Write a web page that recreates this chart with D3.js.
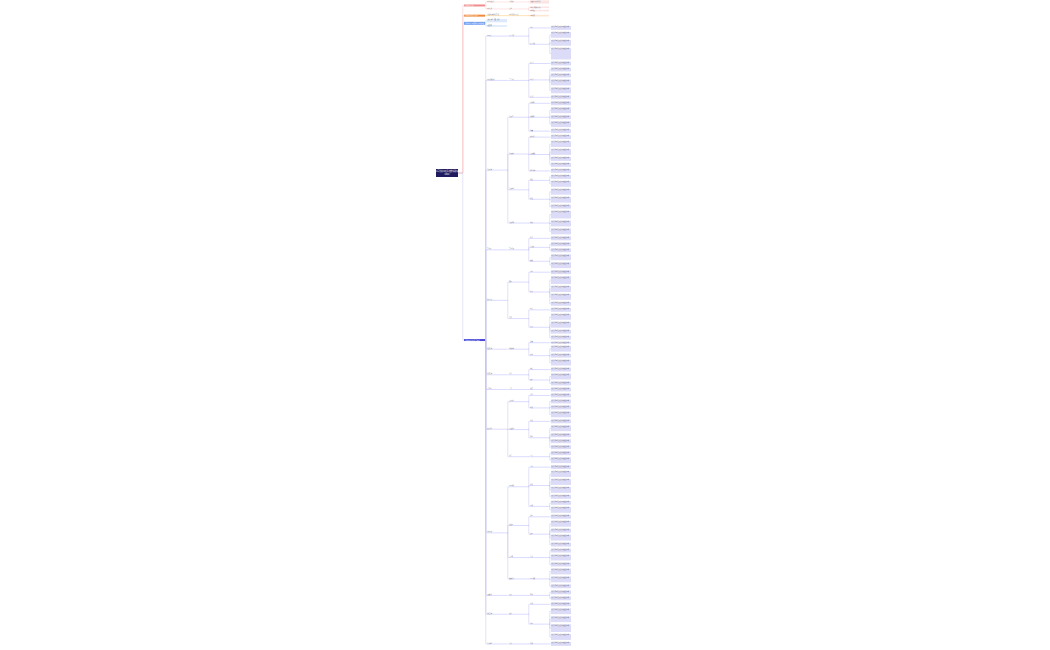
<!DOCTYPE html><html><head><meta charset="utf-8"><script src="https://cdn.jsdelivr.net/npm/d3@7"></script>
<style>body{margin:0;background:#fff}</style></head><body><svg id="c" width="1050" height="650"></svg><script>
const rootTitle="公司法律风险防控体系建设";
const topBranches=[
 {n:"法律风险识别",color:"#f08c8c",bg:"#fde4e4",c:[{n:"风险识别方法",c:[{n:"访谈调查",c:[{n:"问卷调查与资料分析",l:2}]}]},{n:"风险清单",c:[{n:"清单",c:[{n:"风险清单编制与评估",l:1},{n:"风险等级",l:1}]}]}]},
 {n:"法律风险分析与评价",color:"#f08a3c",bg:"#fde6d2",c:[{n:"可能性与影响程度分析",c:[{n:"风险矩阵评价方法",c:[{n:"风险排序",l:1}]}]}]},
 {n:"法律风险应对策略与控制措施",color:"#6f9cf0",bg:"#dde8fc",c:[{n:"规避、降低、转移、承受",l:2},{n:"制度完善",l:1}]}
];
const mainBranch="法律风险防控重点领域";
const groups=[
 ["公司设立",[["设立程序",[["出资",[2]],["股东协议",[3,3,6]]]]]],
 ["公司治理结构",[["三会运作",[["股东会",[2]],["董事会",[2,2,3,3]],["监事会",[2]]]]]],
 ["合同管理",[["合同订立",[["主体审查",[2]],["条款审查",[3,2,3]],["签章",[2]]]],["合同履行",[["履行监控",[2]],["变更解除",[3,3,2,2]],["违约处理",[2]]]],["合同纠纷",[["诉讼",[2,3]],["仲裁",[3,3,2]]]],["合同归档",[["档案",[4,3,3]]]]]],
 ["劳动用工",[["劳动合同",[["签订",[2]],["试用期",[2,2]],["解除",[3,3]]]]]],
 ["知识产权",[["商标",[["注册",[2]],["维权",[4,3,3,2]]]],["专利",[["申请",[2]],["侵权",[3,3,2,2]]]]]],
 ["税务管理",[["纳税申报",[["发票",[1]],["申报",[3,2,3]]]]]],
 ["财务管理",[["资金",[["担保",[2]],["融资",[3,2]]]]]],
 ["安全生产",[["责任",[["制度",[2]]]]]],
 ["投资并购",[["尽职调查",[["法律",[2]],["财务",[2,2,3]]]],["交易结构",[["协议",[2]],["审批",[3,2,2,2]]]],["整合",[["人员",[2,3]]]]]],
 ["对外经营",[["市场营销",[["广告",[2]],["促销",[3,3,3,2]],["价格",[2,3]]]],["招投标",[["招标",[2]],["投标",[3,2,3,2]]]],["反垄断",[["合规",[2,3,2]]]],["数据合规",[["个人信息",[3,3,2]]]]]],
 ["环境保护",[["环评",[["审批",[2,2]]]]]],
 ["诉讼管理",[["案件",[["应诉",[2]],["执行",[3,3,4,3]]]]]],
 ["合规体系",[["合规",[["培训",[2]]]]]]
];
const leafText="相关法律风险点及防控措施说明内容";
const svg=d3.select("#c");
function build(){
 return {n:rootTitle,root:true,c:[...topBranches.map(b=>({...b,top:true})),{n:mainBranch,main:true,c:groups.map(g=>({n:g[0],c:g[1].map(h=>({n:h[0],c:h[1].map(k=>({n:k[0],c:k[1].map(l=>({n:leafText,l}))}))}))}))}]};
}
const root=d3.hierarchy(build(),d=>d.c);
const colX=[436,464,487,509,530,551,573];
const colW=[22,21,20,20,19,20,20];
const topLeaves=root.children.slice(0,3);
let units=0;
root.children[3].leaves().forEach(d=>{d.u0=units;units+=d.data.l*1.1+1.2;d.u1=units;});
const yMain=d3.scaleLinear().domain([0,units]).range([26,648]);
root.children[3].eachAfter(d=>{if(!d.children){d.y=yMain((d.u0+d.u1)/2-0.6);d.h=(d.data.l*1.1)*(622/units);}else{d.y=(d.children[0].y+d.children[d.children.length-1].y)/2;d.h=2;}});
let tu=0;topLeaves.forEach(b=>{b.leaves().forEach(d=>{d.y=2+tu*2.2;d.h=d.data.l*1.6;tu+=d.data.l*0.9+0.6;});b.eachAfter(d=>{if(d.children){d.y=(d.children[0].y+d.children[d.children.length-1].y)/2;d.h=2;}});tu+=0.8;});
root.y=173;root.h=6;
root.descendants().forEach(d=>{d.x=colX[Math.min(d.depth,6)];d.w=colW[Math.min(d.depth,6)];});
const colorOf=d=>{let a=d;while(a.depth>1)a=a.parent;return a.depth==1?(a.data.color||"#7b7be0"):"#7b7be0";};
const g=svg.append("g");
root.links().forEach(({source:s,target:t})=>{
 const x0=s.x+s.w, mx=t.x-1.2;
 const stroke=s.depth==0?(t.data.main?"#c9c9f2":"#f6c6c6"):"#c4c4f0";
 g.append("path").attr("d",`M${x0},${s.y}H${mx}V${t.y}H${t.x}`).attr("fill","none").attr("stroke",t.ancestors().length>2&&topLeaves.includes(t.ancestors()[t.depth-1])?d3.color(colorOf(t)).brighter(1):stroke).attr("stroke-width",0.5);
});
root.descendants().forEach(d=>{
 if(d.data.root){
  g.append("rect").attr("x",d.x).attr("y",d.y-4).attr("width",d.w).attr("height",8).attr("fill","#1f1b5e");
  g.append("text").attr("x",d.x+d.w/2).attr("y",d.y-0.8).attr("text-anchor","middle").attr("font-size",1.9).attr("fill","#fff").attr("font-family","Noto Sans CJK SC").text(d.data.n);
  g.append("text").attr("x",d.x+d.w/2).attr("y",d.y+2).attr("text-anchor","middle").attr("font-size",1.9).attr("fill","#fff").attr("font-family","Noto Sans CJK SC").text("（2024）");
  return;}
 const c=colorOf(d);
 if(d.depth==1){
  const hh=d.data.main?2:(d.data.n.length>10?3:2);
  g.append("rect").attr("x",d.x).attr("y",d.y-hh/2).attr("width",d.w).attr("height",hh).attr("fill",d.data.main?"#4a48d8":c);
  g.append("text").attr("x",d.x+0.5).attr("y",d.y+0.6).attr("font-size",1.5).attr("fill","#fff").attr("font-family","Noto Sans CJK SC").text(d.data.n);
  return;}
 if(!d.children){
  const tb=topLeaves.includes(d.ancestors()[d.depth-1]);
  g.append("rect").attr("x",d.x).attr("y",d.y-d.h/2).attr("width",d.w).attr("height",d.h).attr("fill",tb?d.ancestors()[d.depth-1].data.bg:"#dcdcf8");
  g.append("text").attr("x",d.x+0.4).attr("y",d.y-d.h/2+1.3).attr("font-size",1.1).attr("fill","#555").attr("font-family","Noto Sans CJK SC").text(d.data.n);
 } else {
  g.append("line").attr("x1",d.x).attr("x2",d.x+d.w).attr("y1",d.y).attr("y2",d.y).attr("stroke",d3.color(c).brighter(0.8)).attr("stroke-width",0.4);
  g.append("text").attr("x",d.x+0.3).attr("y",d.y-0.4).attr("font-size",1.2).attr("fill","#555").attr("font-family","Noto Sans CJK SC").text(d.data.n);
 }
});
</script></body></html>
